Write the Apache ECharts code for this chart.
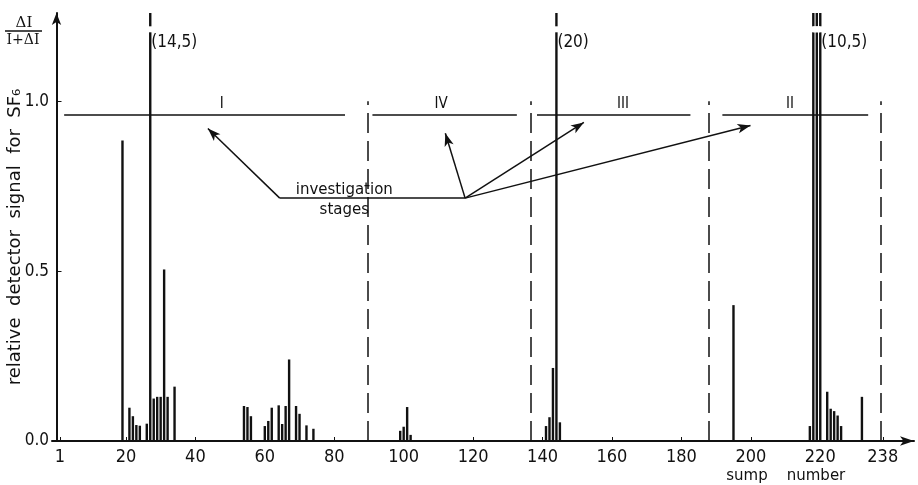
<!DOCTYPE html>
<html>
<head>
<meta charset="utf-8">
<script src="https://cdn.jsdelivr.net/npm/echarts@6/dist/echarts.min.js"></script>
<style>
html, body { margin: 0; padding: 0; background: #fff; }
#chart { width: 918px; height: 485px; }
</style>
</head>
<body>
<div id="chart"></div>
<script>
// sump number -> relative detector signal for SF6
var sumpNo = [19, 21, 22, 23, 24, 26, 27, 28, 29, 30, 31, 32, 34,
    54, 55, 56, 60, 61, 62, 64, 65, 66, 67, 69, 70, 72, 74,
    99, 100, 101, 102,
    141, 142, 143, 144, 145,
    195, 217, 218, 219, 220, 222, 223, 224, 225, 226, 232];
var signal = [0.885, 0.098, 0.073, 0.047, 0.045, 0.051, 14.5, 0.125, 0.13, 0.13, 0.505, 0.13, 0.16,
    0.103, 0.10, 0.073, 0.044, 0.059, 0.098, 0.105, 0.05, 0.103, 0.24, 0.103, 0.08, 0.046, 0.036,
    0.03, 0.042, 0.10, 0.018,
    0.044, 0.07, 0.215, 20, 0.055,
    0.40, 0.044, 10.5, 10.5, 10.5, 0.145, 0.095, 0.088, 0.075, 0.044, 0.13];
// off-scale peaks that carry their value as a note
var notedSumps = [27, 144, 220];

var xTicks = [1, 20, 40, 60, 80, 100, 120, 140, 160, 180, 200, 220, 238];
var yTicks = [0, 0.5, 1.0];

// investigation stages
var stageNames = ['I', 'IV', 'III', 'II'];
var stageFrom = [2.2, 91, 138.4, 191.8];
var stageTo = [83.1, 132.6, 182.6, 233.8];
var stageLabelAt = [47.6, 110.8, 163.2, 211.3];
var stageBounds = [89.6, 136.7, 188, 237.4];

// "investigation stages" pointer
var pointerLeft = [64.3, 0.715];
var pointerRight = [117.7, 0.715];
var pointerTips = [[112, 0.906], [151.9, 0.938], [199.9, 0.929]];
var pointerTipLeft = [43.6, 0.92];

var yMax = 1.26;
var stageLevel = 0.96;
var ink = '#111';
var numFont = "'Liberation Sans Narrow', 'DejaVu Sans Condensed', 'Liberation Sans', sans-serif";
var txtFont = "'DejaVu Sans', sans-serif";

var myChart = echarts.init(document.getElementById('chart'));

var bars = sumpNo.map(function (s, i) { return [s, signal[i]]; });
var offScale = sumpNo.filter(function (s, i) { return signal[i] > yMax; });

var boundLines = stageBounds.map(function (b) {
    return [{ coord: [b, 0] }, { coord: [b, 1.0] }];
});
var stageLines = stageFrom.map(function (s, i) {
    return [{ coord: [s, stageLevel], lineStyle: { type: 'solid', width: 1.6 } },
            { coord: [stageTo[i], stageLevel] }];
});

var option = {
    animation: false,
    grid: { left: 52, right: 4, top: 13, bottom: 44, containLabel: false },
    xAxis: {
        type: 'value',
        min: -1.3,
        max: 247,
        axisLine: { show: true, lineStyle: { color: ink, width: 2 }, symbol: ['none', 'arrow'], symbolSize: [7, 14] },
        axisTick: { show: true, inside: true, length: 4, customValues: xTicks, lineStyle: { color: ink } },
        axisLabel: { customValues: xTicks, color: ink, fontFamily: numFont, fontSize: 18, margin: 7 },
        splitLine: { show: false }
    },
    yAxis: {
        type: 'value',
        min: 0,
        max: yMax,
        axisLine: { show: true, lineStyle: { color: ink, width: 2 }, symbol: ['none', 'arrow'], symbolSize: [7, 12] },
        axisTick: { show: true, inside: true, length: 5, customValues: yTicks, lineStyle: { color: ink } },
        axisLabel: {
            customValues: yTicks, color: ink, fontFamily: numFont, fontSize: 17, margin: 3,
            formatter: function (v) { return v.toFixed(1); }
        },
        splitLine: { show: false }
    },
    series: [
        {
            type: 'bar',
            data: bars,
            barWidth: 2.4,
            clip: true,
            itemStyle: { color: ink },
            markLine: {
                silent: true,
                symbol: ['none', 'none'],
                label: { show: false },
                lineStyle: { color: ink, type: [20, 8], width: 1.5 },
                data: boundLines.concat(stageLines)
            }
        },
        {
            // breaks in the off-scale peaks
            type: 'scatter',
            symbol: 'rect',
            symbolSize: [7, 6],
            itemStyle: { color: '#fff', opacity: 1 },
            z: 5,
            data: offScale.map(function (s) { return [s, 1.212]; })
        },
        {
            type: 'scatter',
            symbolSize: 0,
            z: 6,
            itemStyle: { opacity: 1 },
            label: {
                show: true, position: 'right', distance: 1, color: ink,
                fontFamily: numFont, fontSize: 17,
                formatter: function (p) { return p.name; }
            },
            data: notedSumps.map(function (s) {
                return { name: '(' + String(signal[sumpNo.indexOf(s)]).replace('.', ',') + ')', value: [s, 1.172] };
            })
        },
        {
            type: 'scatter',
            symbolSize: 0,
            itemStyle: { opacity: 1 },
            label: {
                show: true, position: 'top', distance: 3, color: ink,
                fontFamily: numFont, fontSize: 15,
                formatter: function (p) { return p.name; }
            },
            data: stageNames.map(function (n, i) { return { name: n, value: [stageLabelAt[i], stageLevel] }; })
        },
        {
            type: 'scatter',
            symbolSize: 0,
            itemStyle: { opacity: 1 },
            data: [
                { name: 'investigation', value: [82.9, pointerLeft[1]], label: { position: 'top', distance: 1 } },
                { name: 'stages', value: [82.9, pointerLeft[1]], label: { position: 'bottom', distance: 4 } }
            ],
            label: {
                show: true, color: ink, fontFamily: txtFont, fontSize: 15,
                formatter: function (p) { return p.name; }
            },
            markLine: {
                silent: true,
                symbol: ['none', 'arrow'],
                symbolSize: [7, 13],
                label: { show: false },
                lineStyle: { color: ink, type: 'solid', width: 1.5 },
                data: [
                    [{ coord: pointerLeft, symbol: 'none' }, { coord: pointerRight, symbol: 'none' }],
                    [{ coord: pointerLeft }, { coord: pointerTipLeft }]
                ].concat(pointerTips.map(function (t) {
                    return [{ coord: pointerRight }, { coord: t }];
                }))
            }
        }
    ],
    graphic: [
        {
            type: 'text', x: 15, y: 237, rotation: Math.PI / 2,
            style: { text: 'relative  detector  signal  for  SF\u2086', font: '18px ' + txtFont, fill: ink, align: 'center', verticalAlign: 'middle' }
        },
        {
            type: 'text', x: 24, y: 23,
            style: { text: '\u0394I', font: '15px DejaVu Serif', fill: ink, align: 'center', verticalAlign: 'middle' }
        },
        {
            type: 'line', shape: { x1: 5, y1: 31, x2: 42, y2: 31 }, style: { stroke: ink, lineWidth: 1.5 }
        },
        {
            type: 'text', x: 23, y: 40,
            style: { text: 'I+\u0394I', font: '14px DejaVu Serif', fill: ink, align: 'center', verticalAlign: 'middle' }
        },
        {
            type: 'text', x: 747, y: 476,
            style: { text: 'sump', font: '15px ' + txtFont, fill: ink, align: 'center', verticalAlign: 'middle' }
        },
        {
            type: 'text', x: 816, y: 476,
            style: { text: 'number', font: '15px ' + txtFont, fill: ink, align: 'center', verticalAlign: 'middle' }
        }
    ]
};

myChart.setOption(option);
window.addEventListener('resize', function () { myChart.resize(); });
</script>
</body>
</html>
